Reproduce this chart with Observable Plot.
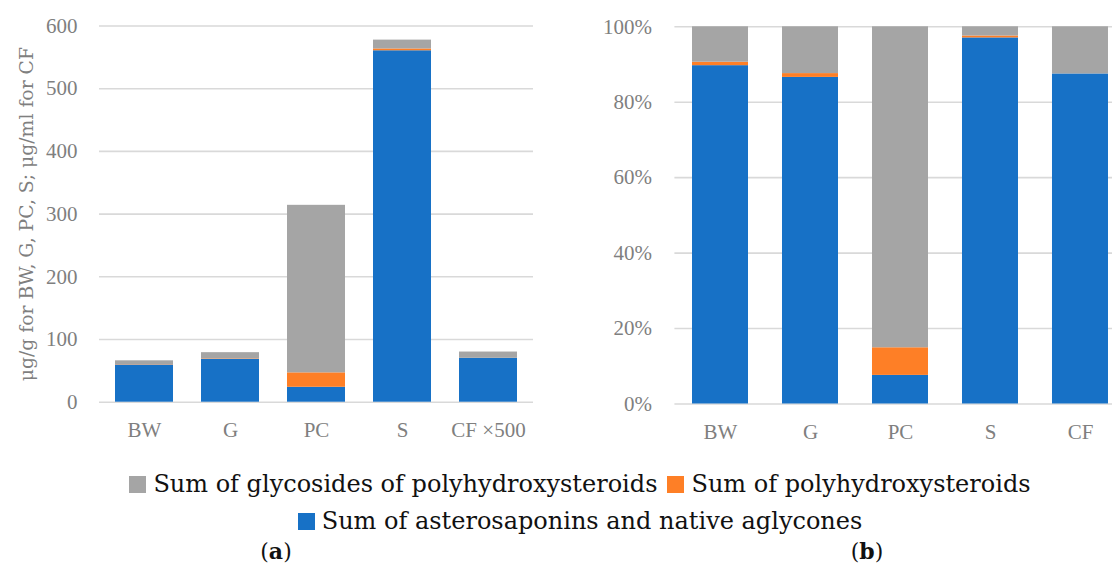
<!DOCTYPE html>
<html>
<head>
<meta charset="utf-8">
<script src="https://cdn.jsdelivr.net/npm/d3@7"></script>
<script src="https://cdn.jsdelivr.net/npm/@observablehq/plot@0.6"></script>
<style>
  html, body { margin: 0; padding: 0; background: #fff; }
  #wrap { position: relative; width: 1112px; height: 570px; overflow: hidden; background: #fff; }
  #left { position: absolute; left: 0; top: 0; width: 556px; }
  #right { position: absolute; left: 556px; top: 0; width: 600px; }
  #left svg, #right svg { max-width: none !important; }
  #legend { position: absolute; left: 24px; width: 1112px; top: 466px; text-align: center;
            font-family: "DejaVu Serif", serif; font-size: 24px; line-height: 37px; color: #111; }
  .item { display: inline-block; white-space: nowrap; margin: 0 5px; }
  .sw { display: inline-block; width: 17px; height: 17px; margin-right: 7px; vertical-align: -1px; }
  .cap { position: absolute; top: 538px; font-family: "DejaVu Serif", serif; font-size: 22px; color: #111;
         transform: translateX(-50%); white-space: nowrap; }
</style>
</head>
<body>
<div id="wrap">
  <div id="left"></div>
  <div id="right"></div>
  <div id="legend"></div>
  <div class="cap" style="left:276px">(<b>a</b>)</div>
  <div class="cap" style="left:867px">(<b>b</b>)</div>
</div>
<script>
// ---- data ----
const categories = ["BW", "G", "PC", "S", "CF"];
const categoryLabelsA = ["BW", "G", "PC", "S", "CF ×500"];
const seriesNames = [
  "Sum of asterosaponins and native aglycones",
  "Sum of polyhydroxysteroids",
  "Sum of glycosides of polyhydroxysteroids"
];
const aglycones   = [59.2, 68.4, 23.8, 560.5, 70];
const polyhydroxy = [0.6, 0.8, 23.0, 2.9, 0];
const glycosides  = [6.2, 9.8, 267.2, 14.1, 10];
const seriesColors = ["#1771c6", "#fe7f26", "#a5a5a5"];
const leftTicks = [0, 100, 200, 300, 400, 500, 600];
const pctTicks = [0, 0.2, 0.4, 0.6, 0.8, 1];
const yTitle = "μg/g for BW, G, PC, S; μg/ml for CF";
const legendRows = [[2, 1], [0]];

const seriesValues = [aglycones, polyhydroxy, glycosides];
const rows = categories.flatMap((c, i) =>
  seriesNames.map((s, j) => ({category: c, series: s, value: seriesValues[j][i]})));

const gridStyle = {stroke: "#d9d9d9", strokeOpacity: 1, strokeWidth: 1.6};
const baseStyle = {fontFamily: "Liberation Serif", fontSize: "21px", color: "#7f7f7f",
  background: "transparent", overflow: "visible", maxWidth: "none"};

const left = Plot.plot({
  width: 556, height: 450,
  marginLeft: 99, marginRight: 23, marginTop: 25.5, marginBottom: 48.3,
  style: baseStyle,
  x: {domain: categories, paddingInner: 0.33, paddingOuter: 0.165},
  y: {domain: [0, 600]},
  color: {domain: seriesNames, range: seriesColors},
  marks: [
    Plot.gridY(leftTicks, gridStyle),
    Plot.barY(rows, {x: "category", y: "value", fill: "series"}),
    Plot.axisY(leftTicks, {tickSize: 0, tickPadding: 22, label: null}),
    Plot.axisX({tickSize: 0, tickPadding: 20, label: null,
      tickFormat: d => categoryLabelsA[categories.indexOf(d)]}),
    Plot.text([yTitle], {text: d => d, frameAnchor: "left", dx: -72.5, rotate: -90,
      textAnchor: "middle", fontFamily: "DejaVu Serif", fontSize: 18.8, fill: "#7f7f7f"})
  ]
});
document.getElementById("left").appendChild(left);

const right = Plot.plot({
  width: 580.4, height: 450,
  marginLeft: 118.4, marginRight: 10, marginTop: 26.3, marginBottom: 46.5,
  style: baseStyle,
  x: {domain: categories, paddingInner: 0.374, paddingOuter: 0.187},
  y: {domain: [0, 1]},
  color: {domain: seriesNames, range: seriesColors},
  marks: [
    Plot.gridY(pctTicks, gridStyle),
    Plot.barY(rows, {x: "category", y: "value", fill: "series", offset: "normalize"}),
    Plot.axisY(pctTicks, {tickSize: 0, tickPadding: 22.9, label: null, tickFormat: d3.format(".0%")}),
    Plot.axisX({tickSize: 0, tickPadding: 20, label: null})
  ]
});
document.getElementById("right").appendChild(right);

const legend = document.getElementById("legend");
for (const r of legendRows) {
  const row = document.createElement("div");
  for (const j of r) {
    const item = document.createElement("span");
    item.className = "item";
    const sw = document.createElement("span");
    sw.className = "sw";
    sw.style.background = seriesColors[j];
    item.appendChild(sw);
    item.appendChild(document.createTextNode(seriesNames[j]));
    row.appendChild(item);
  }
  legend.appendChild(row);
}
</script>
</body>
</html>
